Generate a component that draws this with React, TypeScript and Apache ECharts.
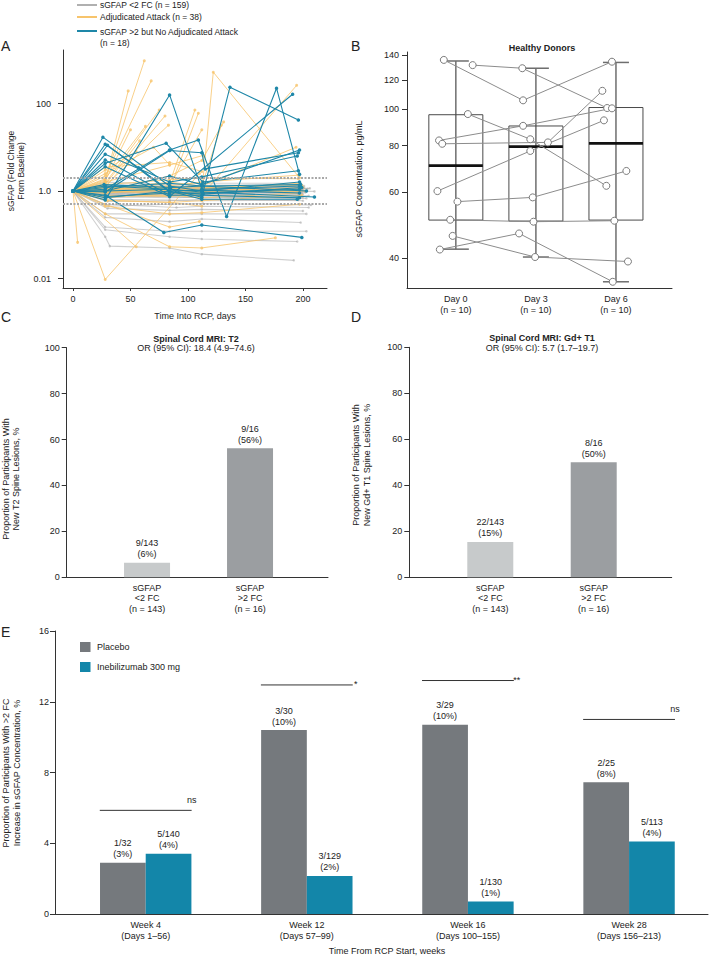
import React, { useEffect, useRef } from 'react';
import * as echarts from 'echarts';

const FONT = '"Liberation Sans", Arial, Helvetica, sans-serif';
const log = (v: number) => Math.log10(v);

// ---------------- Panel A: sGFAP fold change spaghetti ----------------
const legendA = ['sGFAP <2 FC (n = 159)', 'Adjudicated Attack (n = 38)', 'sGFAP >2 but No Adjudicated Attack\n(n = 18)'];
const thresholdsA = [2, 0.5];
const yTicksA = [0.01, 1, 100];
const yTickLabelsA = ['0.01', '1.0', '100'];
const xTicksA = [0, 50, 100, 150, 200];

const grayLines: number[][][] = [
  [[0, 1], [28, 0.95], [84, 0.9], [112, 0.92], [197, 0.88]],
  [[0, 1], [29, 1.1], [85, 1.05], [113, 1.0], [198, 1.1]],
  [[0, 1], [27, 0.85], [84, 0.8], [111, 0.85], [196, 0.82]],
  [[0, 1], [28, 1.2], [86, 1.15], [112, 1.1], [199, 1.2]],
  [[0, 1], [30, 0.9], [84, 1.0], [114, 0.95], [200, 1.05]],
  [[0, 1], [28, 1.05], [83, 0.95], [112, 0.9], [195, 0.95]],
  [[0, 1], [28, 0.75], [84, 0.7], [112, 0.72], [197, 0.7]],
  [[0, 1], [29, 1.3], [85, 1.25], [113, 1.2], [201, 1.3]],
  [[0, 1], [28, 0.8], [84, 0.85], [112, 0.8], [205, 0.78]],
  [[0, 1], [31, 1.0], [88, 1.1], [115, 1.05], [203, 1.0]],
  [[0, 1], [28, 0.65], [84, 0.62], [112, 0.6], [196, 0.62]],
  [[0, 1], [28, 1.15], [84, 1.25], [112, 1.35], [198, 1.4]],
  [[0, 1], [27, 0.92], [84, 0.88], [110, 0.95], [199, 0.9]],
  [[0, 1], [28, 1.4], [84, 1.3], [112, 1.25], [197, 1.15]],
  [[0, 1], [28, 0.7], [85, 0.78], [113, 0.75], [200, 0.72]],
  [[0, 1], [29, 1.0], [84, 0.92], [112, 1.02], [210, 0.98]],
  [[0, 1], [28, 0.88], [86, 0.95], [112, 0.98], [202, 0.93]],
  [[0, 1], [28, 1.25], [84, 1.1], [112, 1.15], [196, 1.25]],
  [[0, 1], [30, 0.58], [84, 0.6], [112, 0.65], [200, 0.6]],
  [[0, 1], [28, 1.6], [84, 1.4], [112, 1.5], [198, 1.5]],
  [[0, 1], [28, 1.02], [84, 1.08], [114, 1.12], [199, 1.08]],
  [[0, 1], [28, 0.82], [84, 0.74], [112, 0.7], [203, 0.68]],
  [[0, 1], [29, 0.97], [90, 1.0], [113, 0.97], [197, 1.02]],
  [[0, 1], [28, 1.1], [84, 1.2], [112, 1.1], [206, 1.15]],
  [[0, 1], [28, 0.98], [84, 0.9], [112, 0.86], [200, 0.85]],
  [[0, 1], [28, 1.08], [85, 1.02], [112, 1.06], [204, 1.12]],
  [[0, 1], [29, 0.9], [84, 0.82], [113, 0.9], [196, 0.96]],
  [[0, 1], [28, 1.3], [84, 1.18], [112, 1.22], [201, 1.18]],
  [[0, 1], [28, 0.09], [32, 0.055], [84, 0.05], [112, 0.036], [192, 0.026]],
  [[0, 1], [28, 0.15], [84, 0.12], [112, 0.12], [203, 0.12]],
  [[0, 1], [28, 0.3], [84, 0.3], [112, 0.3], [203, 0.3]],
  [[0, 1], [30, 0.4], [84, 0.36], [112, 0.38], [200, 0.35]],
  [[0, 1], [28, 0.5], [90, 0.42], [112, 0.45], [205, 0.42]],
  [[0, 1], [28, 0.25], [84, 0.2], [112, 0.23], [198, 0.19]],
  [[0, 1], [31, 0.45], [84, 0.5], [113, 0.52], [207, 0.48]],
  [[0, 1], [28, 0.13], [84, 0.09], [112, 0.08], [195, 0.07]],
];

const attackLines: number[][][] = [
  [[0, 1], [28, 1.8], [62, 944]],
  [[0, 1], [28, 2.2], [68, 329]],
  [[0, 1], [27, 1.3], [48, 194]],
  [[0, 1], [28, 0.9], [84, 1.2], [112, 0.9], [122, 520], [197, 2.0]],
  [[0, 1], [28, 1.1], [84, 0.9], [112, 0.8], [194.5, 260]],
  [[0, 1], [28, 1.5], [75, 71]],
  [[0, 1], [28, 1.2], [80, 52]],
  [[0, 1], [28, 1.0], [84, 1.5], [106, 71]],
  [[0, 1], [28, 0.9], [84, 1.1], [109, 60]],
  [[0, 1], [28, 1.3], [83, 32]],
  [[0, 1], [28, 1.0], [84, 1.2], [112, 1.3], [129, 32]],
  [[0, 1], [28, 1.7], [50, 25]],
  [[0, 1], [28, 1.4], [58, 14]],
  [[0, 1], [28, 3.0], [55, 8]],
  [[0, 1], [4, 0.067]],
  [[0, 1], [28, 0.0095], [110, 2.5]],
  [[0, 1], [55, 0.053]],
  [[0, 1], [28, 0.3], [84, 0.053], [112, 0.05], [176, 0.085]],
  [[0, 1], [28, 0.45], [84, 0.3], [112, 0.32], [197, 0.5]],
  [[0, 1], [28, 0.62], [84, 0.55], [112, 0.45]],
  [[0, 1], [28, 0.75], [84, 0.8], [112, 0.7], [197, 0.9]],
  [[0, 1], [28, 1.2], [84, 1.0], [112, 1.1], [197, 1.5]],
  [[0, 1], [28, 0.9], [84, 1.3], [112, 1.6], [196, 2.3]],
  [[0, 1], [28, 1.1], [84, 1.6], [112, 1.3], [194, 10]],
  [[0, 1], [28, 1.6], [84, 3.9], [113, 6.5]],
  [[0, 1], [28, 2.5], [70, 10], [84, 4]],
  [[0, 1], [30, 0.6], [84, 0.55], [112, 0.6], [199, 0.8]],
  [[0, 1], [28, 0.8], [84, 0.75], [110, 0.9], [198, 1.1]],
  [[0, 1], [28, 1.0], [84, 0.85], [113, 1.0], [200, 1.2]],
  [[0, 1], [29, 0.7], [84, 0.9], [112, 1.2], [197, 0.95]],
  [[0, 1], [28, 3.5], [84, 4.5], [112, 2.8]],
  [[0, 1], [28, 1.9], [63, 30]],
  [[0, 1], [28, 1.1], [84, 1.3], [112, 25]],
  [[0, 1], [28, 1.0], [84, 2.2], [112, 5], [131, 38]],
  [[0, 1], [28, 0.95], [84, 1.05], [112, 0.95], [202, 1.0]],
  [[0, 1], [28, 1.25], [84, 1.15], [112, 1.2], [199, 1.35]],
  [[0, 1], [28, 0.5], [84, 0.15], [110, 0.2]],
  [[0, 1], [28, 1.4], [84, 1.8], [112, 2.0], [196, 1.9]],
];

const tealLines: number[][][] = [
  [[0, 1], [28, 0.62], [84, 157], [112, 1.1], [197, 1.3]],
  [[0, 1], [28, 1.3], [84, 1.1], [112, 0.72], [136.5, 236], [196, 42]],
  [[0, 1], [28, 1.1], [84, 8.7], [109, 14.7], [133.6, 0.26], [177, 224], [197, 2.4]],
  [[0, 1], [28, 3.6], [84, 0.75], [191, 163]],
  [[0, 1], [26, 17], [84, 1.3], [112, 1.0], [197, 1.6]],
  [[0, 1], [28, 11.7], [57, 3.4], [84, 1.0], [112, 1.05], [197, 0.9]],
  [[0, 1], [30, 11.1], [84, 0.95], [113, 0.85], [199, 1.2]],
  [[0, 1], [28, 5.1], [84, 0.8], [112, 0.8], [197, 0.7]],
  [[0, 1], [28, 4.3], [81, 12.3], [113, 1.6], [196, 2.9]],
  [[0, 1], [28, 0.95], [84, 8.4], [112, 7.5], [115, 3.2], [196, 7.5]],
  [[0, 1], [28, 1.0], [84, 2.2], [112, 1.4], [197, 8.7]],
  [[0, 1], [28, 0.8], [79, 0.113], [112, 0.167], [199, 0.087]],
  [[0, 1], [28, 0.7], [84, 1.0], [112, 0.65], [195, 0.65]],
  [[0, 1], [28, 1.2], [84, 1.5], [112, 1.3], [203, 1.0]],
  [[0, 1], [30, 0.75], [84, 0.9], [113, 0.9], [197, 1.1]],
  [[0, 1], [28, 1.0], [84, 1.1], [112, 0.95], [210, 0.73]],
  [[0, 1], [27, 1.4], [85, 1.2], [113, 1.3], [198, 1.4]],
  [[0, 1], [28, 6.9], [84, 1.6], [112, 2.1], [195, 6.3]],
];

// ---------------- Panel B: healthy donors ----------------
const donorDays = ['Day 0', 'Day 3', 'Day 6'];
const donorN = [10, 10, 10];
const donorValues = [
  [135.8, 105.8, 134.3],
  [131.5, 129, 100.9],
  [97.2, 83.2, 62.4],
  [82.6, 90.4, 100.7],
  [80.9, 81.6, 112.2],
  [60.4, 77.4, 93.5],
  [56.6, 58.1, 68.4],
  [50.6, 50.0, 50.3],
  [45.8, 40.2, 39.1],
  [42.1, 46.5, 34.5],
];
const dayJitter = [
  [-0.15, -0.16, -0.05],
  [0.21, -0.17, -0.11],
  [0.15, -0.07, -0.12],
  [-0.21, -0.16, -0.05],
  [-0.17, 0.15, -0.17],
  [-0.23, -0.07, -0.15],
  [0.02, -0.04, 0.13],
  [-0.07, -0.03, -0.02],
  [-0.04, -0.01, 0.15],
  [-0.2, -0.21, -0.04],
];
// [whisker low, Q1, median, Q3, whisker high]
const boxStats = [
  [42.2, 50.5, 70.7, 96.8, 134.9],
  [40.2, 50.2, 79.5, 90.3, 129],
  [34.5, 50.5, 81.1, 101.2, 133.7],
];
const yTicksB = [40, 60, 80, 100, 120, 140];

// ---------------- Panels C & D ----------------
const cdCategories = ['sGFAP\n<2 FC\n(n = 143)', 'sGFAP\n>2 FC\n(n = 16)'];
const cValues = [6.29, 56.25];
const cLabels = ['9/143\n(6%)', '9/16\n(56%)'];
const dValues = [15.38, 50];
const dLabels = ['22/143\n(15%)', '8/16\n(50%)'];

// ---------------- Panel E ----------------
const eCategories = ['Week 4\n(Days 1–56)', 'Week 12\n(Days 57–99)', 'Week 16\n(Days 100–155)', 'Week 28\n(Days 156–213)'];
const placeboValues = [2.9, 10.4, 10.7, 7.45];
const placeboLabels = ['1/32\n(3%)', '3/30\n(10%)', '3/29\n(10%)', '2/25\n(8%)'];
const inebValues = [3.4, 2.15, 0.7, 4.1];
const inebLabels = ['5/140\n(4%)', '3/129\n(2%)', '1/130\n(1%)', '5/113\n(4%)'];
const sigLevels = [5.86, 12.95, 13.2, 11.0];
const sigMarks = ['ns', '*', '**', 'ns'];

const C_GRAY = '#a9a9a9';
const C_ORANGE = '#f7c46c';
const C_TEAL = '#1e87a8';
const C_LIGHT = '#c7cacb';
const C_DARK = '#9b9ea1';
const C_PLACEBO = '#75797d';
const C_INEB = '#1386a9';

const txt = { color: '#222', fontSize: 9, fontFamily: FONT };
const axisLine = { show: true, onZero: false, lineStyle: { color: '#333', width: 1 } };

function spaghetti(lines: number[][][], color: string, width: number, opacity: number, size: number, z: number, extra?: any) {
  return lines.map((pts, i) => ({
    type: 'line',
    xAxisIndex: 0,
    yAxisIndex: 0,
    data: pts.map(([d, fc]) => [d, log(fc)]),
    symbol: 'circle',
    symbolSize: size,
    showSymbol: true,
    lineStyle: { color, width, opacity },
    itemStyle: { color, opacity },
    z,
    silent: true,
    ...(i === 0 && extra ? extra : {}),
  }));
}

function gtext(x: number, y: number, text: string, opts: any = {}) {
  const { rotation, ...style } = opts;
  return {
    type: 'text',
    x,
    y,
    rotation: rotation || 0,
    silent: true,
    style: {
      text,
      fill: '#222',
      fontSize: 9,
      fontFamily: FONT,
      textAlign: 'center',
      textVerticalAlign: 'middle',
      ...style,
    },
  };
}

function buildOption(): any {
  const thresholdMark = {
    markLine: {
      silent: true,
      symbol: ['none', 'none'],
      label: { show: false },
      lineStyle: { color: '#a8a8a8', type: [2, 1.5], width: 2 },
      data: thresholdsA.map((t) => ({ yAxis: log(t) })),
    },
  };

  const series: any[] = [
    ...spaghetti(grayLines, C_GRAY, 1.1, 0.55, 2.5, 2),
    ...spaghetti(attackLines, C_ORANGE, 1, 0.8, 3, 3, thresholdMark),
    ...spaghetti(tealLines, C_TEAL, 1.1, 1, 3.5, 4),
    // Panel B boxes
    {
      type: 'custom',
      xAxisIndex: 1,
      yAxisIndex: 1,
      z: 2,
      silent: true,
      data: boxStats.map((s, i) => [i, ...s.map(log)]),
      renderItem: (params: any, api: any) => {
        const x = api.value(0);
        const lo = api.coord([x, api.value(1)]);
        const q1 = api.coord([x, api.value(2)]);
        const md = api.coord([x, api.value(3)]);
        const q3 = api.coord([x, api.value(4)]);
        const hi = api.coord([x, api.value(5)]);
        const cx = lo[0];
        const wStyle = { stroke: '#6e6e6e', lineWidth: 1.5 };
        return {
          type: 'group',
          children: [
            { type: 'line', shape: { x1: cx, y1: hi[1], x2: cx, y2: lo[1] }, style: wStyle },
            { type: 'line', shape: { x1: cx - 13, y1: hi[1], x2: cx + 13, y2: hi[1] }, style: wStyle },
            { type: 'line', shape: { x1: cx - 13, y1: lo[1], x2: cx + 13, y2: lo[1] }, style: wStyle },
            { type: 'rect', shape: { x: cx - 27, y: q3[1], width: 54, height: q1[1] - q3[1] }, style: { fill: 'none', stroke: '#4a4a4a', lineWidth: 1 } },
            { type: 'line', shape: { x1: cx - 27, y1: md[1], x2: cx + 27, y2: md[1] }, style: { stroke: '#111', lineWidth: 2.6 } },
          ],
        };
      },
    },
    ...donorValues.map((vals, i) => ({
      type: 'line',
      xAxisIndex: 1,
      yAxisIndex: 1,
      z: 5,
      silent: true,
      data: vals.map((v, d) => [d + dayJitter[i][d], log(v)]),
      symbol: 'circle',
      symbolSize: 7,
      itemStyle: { color: '#fff', borderColor: '#7a7a7a', borderWidth: 1 },
      lineStyle: { color: '#8c8c8c', width: 1 },
    })),
    // Panel C
    {
      type: 'bar',
      xAxisIndex: 2,
      yAxisIndex: 2,
      barWidth: 46,
      silent: true,
      data: cValues.map((v, i) => ({ value: [i, v], itemStyle: { color: i === 0 ? C_LIGHT : C_DARK } })),
      label: { show: true, position: 'top', distance: 3, ...txt, lineHeight: 11, formatter: (p: any) => cLabels[p.dataIndex] },
    },
    // Panel D
    {
      type: 'bar',
      xAxisIndex: 3,
      yAxisIndex: 3,
      barWidth: 46,
      silent: true,
      data: dValues.map((v, i) => ({ value: [i, v], itemStyle: { color: i === 0 ? C_LIGHT : C_DARK } })),
      label: { show: true, position: 'top', distance: 3, ...txt, lineHeight: 11, formatter: (p: any) => dLabels[p.dataIndex] },
    },
    // Panel E
    {
      type: 'bar',
      name: 'Placebo',
      xAxisIndex: 4,
      yAxisIndex: 4,
      barWidth: 45.7,
      barGap: '0%',
      silent: true,
      itemStyle: { color: C_PLACEBO },
      data: placeboValues.map((v, i) => [i, v]),
      label: { show: true, position: 'top', distance: 3, ...txt, lineHeight: 11, formatter: (p: any) => placeboLabels[p.dataIndex] },
    },
    {
      type: 'bar',
      name: 'Inebilizumab 300 mg',
      xAxisIndex: 4,
      yAxisIndex: 4,
      barWidth: 45.7,
      barGap: '0%',
      silent: true,
      itemStyle: { color: C_INEB },
      data: inebValues.map((v, i) => [i, v]),
      label: { show: true, position: 'top', distance: 3, ...txt, lineHeight: 11, formatter: (p: any) => inebLabels[p.dataIndex] },
    },
    {
      type: 'custom',
      xAxisIndex: 4,
      yAxisIndex: 4,
      silent: true,
      z: 5,
      data: sigLevels.map((lv, i) => [i, lv]),
      renderItem: (params: any, api: any) => {
        const x = api.value(0);
        const y = api.value(1);
        const p1 = api.coord([x - 0.285, y]);
        const p2 = api.coord([x + 0.285, y]);
        const mark = sigMarks[params.dataIndex];
        const isStar = mark.indexOf('*') >= 0;
        return {
          type: 'group',
          children: [
            { type: 'line', shape: { x1: p1[0], y1: p1[1], x2: p2[0], y2: p2[1] }, style: { stroke: '#333', lineWidth: 1 } },
            {
              type: 'text',
              x: p2[0] + (isStar ? 3 : 0),
              y: p2[1] - (isStar ? 1 : 10),
              style: { text: mark, fill: '#222', fontSize: 9, fontFamily: FONT, textAlign: 'center', textVerticalAlign: 'middle' },
            },
          ],
        };
      },
    },
  ];

  const grid = [
    { left: 63, top: 50, width: 264, height: 238 },
    { left: 407, top: 52, width: 265, height: 236 },
    { left: 66.7, top: 347.7, width: 261.3, height: 229.6 },
    { left: 409.3, top: 347.3, width: 262.4, height: 230 },
    { left: 55, top: 631, width: 653, height: 283 },
  ];

  const xAxis = [
    {
      type: 'value', gridIndex: 0, min: -8.7, max: 220.9,
      axisLine, splitLine: { show: false },
      axisTick: { show: true, length: 3, customValues: xTicksA, lineStyle: { color: '#333' } },
      axisLabel: { ...txt, margin: 6, customValues: xTicksA },
    },
    {
      type: 'value', gridIndex: 1, min: -0.61, max: 2.7,
      axisLine, splitLine: { show: false }, axisTick: { show: false },
      axisLabel: {
        ...txt, margin: 5, lineHeight: 11, customValues: [0, 1, 2],
        formatter: (v: number) => `${donorDays[Math.round(v)]}\n(n = ${donorN[Math.round(v)]})`,
      },
    },
    {
      type: 'value', gridIndex: 2, min: -0.78, max: 1.757,
      axisLine, splitLine: { show: false }, axisTick: { show: false },
      axisLabel: { ...txt, margin: 5, lineHeight: 10.6, customValues: [0, 1], formatter: (v: number) => cdCategories[Math.round(v)] },
    },
    {
      type: 'value', gridIndex: 3, min: -0.783, max: 1.754,
      axisLine, splitLine: { show: false }, axisTick: { show: false },
      axisLabel: { ...txt, margin: 5, lineHeight: 10.6, customValues: [0, 1], formatter: (v: number) => cdCategories[Math.round(v)] },
    },
    {
      type: 'value', gridIndex: 4, min: -0.563, max: 3.49,
      axisLine, splitLine: { show: false }, axisTick: { show: false },
      axisLabel: { ...txt, margin: 5, lineHeight: 11, customValues: [0, 1, 2, 3], formatter: (v: number) => eCategories[Math.round(v)] },
    },
  ];

  const yAxis = [
    {
      type: 'value', gridIndex: 0, min: -2.217, max: 3.223,
      axisLine, splitLine: { show: false },
      axisTick: { show: true, length: 5, customValues: yTicksA.map(log), lineStyle: { color: '#333' } },
      axisLabel: {
        ...txt, margin: 12, customValues: yTicksA.map(log),
        formatter: (v: number) => {
          const i = yTicksA.findIndex((t) => Math.abs(log(t) - v) < 1e-6);
          return i >= 0 ? yTickLabelsA[i] : '';
        },
      },
    },
    {
      type: 'value', gridIndex: 1, min: log(33.2), max: log(142.6),
      axisLine, splitLine: { show: false },
      axisTick: { show: true, length: 5, customValues: yTicksB.map(log), lineStyle: { color: '#333' } },
      axisLabel: { ...txt, margin: 8, customValues: yTicksB.map(log), formatter: (v: number) => String(Math.round(Math.pow(10, v))) },
    },
    {
      type: 'value', gridIndex: 2, min: 0, max: 100, interval: 20,
      axisLine, splitLine: { show: false },
      axisTick: { show: true, length: 5, lineStyle: { color: '#333' } },
      axisLabel: { ...txt, margin: 7 },
    },
    {
      type: 'value', gridIndex: 3, min: 0, max: 100, interval: 20,
      axisLine, splitLine: { show: false },
      axisTick: { show: true, length: 5, lineStyle: { color: '#333' } },
      axisLabel: { ...txt, margin: 7 },
    },
    {
      type: 'value', gridIndex: 4, min: 0, max: 16, interval: 4,
      axisLine, splitLine: { show: false },
      axisTick: { show: true, length: 5, lineStyle: { color: '#333' } },
      axisLabel: { ...txt, margin: 6 },
    },
  ];

  const graphic: any[] = [
    // panel letters
    gtext(1, 46, 'A', { fontSize: 14, textAlign: 'left' }),
    gtext(351, 46, 'B', { fontSize: 14, textAlign: 'left' }),
    gtext(1, 317, 'C', { fontSize: 14, textAlign: 'left' }),
    gtext(351, 317, 'D', { fontSize: 14, textAlign: 'left' }),
    gtext(1, 632, 'E', { fontSize: 14, textAlign: 'left' }),
    // Panel A legend
    { type: 'line', silent: true, shape: { x1: 77, y1: 5, x2: 97, y2: 5 }, style: { stroke: '#b0b0b0', lineWidth: 2 } },
    { type: 'line', silent: true, shape: { x1: 77, y1: 17, x2: 97, y2: 17 }, style: { stroke: C_ORANGE, lineWidth: 2 } },
    { type: 'line', silent: true, shape: { x1: 77, y1: 31, x2: 97, y2: 31 }, style: { stroke: C_TEAL, lineWidth: 2 } },
    gtext(100, 5, legendA[0], { textAlign: 'left', fontSize: 8.5 }),
    gtext(100, 17, legendA[1], { textAlign: 'left', fontSize: 8.5 }),
    gtext(100, 26.5, legendA[2], { textAlign: 'left', fontSize: 8.5, textVerticalAlign: 'top', lineHeight: 11 }),
    // Panel A axis titles
    gtext(16, 171, 'sGFAP (Fold Change\nFrom Baseline)', { rotation: Math.PI / 2, fontSize: 8.5, lineHeight: 9.5 }),
    gtext(195, 316, 'Time Into RCP, days'),
    // Panel B
    gtext(542, 48, 'Healthy Donors', { fontWeight: 'bold' }),
    gtext(359, 179, 'sGFAP Concentration, pg/mL', { rotation: Math.PI / 2 }),
    // Panel C
    gtext(196, 338.5, 'Spinal Cord MRI: T2', { fontWeight: 'bold' }),
    gtext(196, 348, 'OR (95% CI): 18.4 (4.9–74.6)'),
    gtext(11, 479, 'Proportion of Participants With\nNew T2 Spine Lesions, %', { rotation: Math.PI / 2, lineHeight: 10.5 }),
    // Panel D
    gtext(542, 337.5, 'Spinal Cord MRI: Gd+ T1', { fontWeight: 'bold' }),
    gtext(542, 347.5, 'OR (95% CI): 5.7 (1.7–19.7)'),
    gtext(361.5, 465, 'Proportion of Participants With\nNew Gd+ T1 Spine Lesions, %', { rotation: Math.PI / 2, lineHeight: 10.5 }),
    // Panel E legend
    { type: 'rect', silent: true, shape: { x: 80, y: 642, width: 10.5, height: 10 }, style: { fill: C_PLACEBO } },
    { type: 'rect', silent: true, shape: { x: 80, y: 662, width: 10.5, height: 10 }, style: { fill: C_INEB } },
    gtext(97, 647, 'Placebo', { textAlign: 'left' }),
    gtext(97, 667, 'Inebilizumab 300 mg', { textAlign: 'left' }),
    gtext(11.5, 773, 'Proportion of Participants With >2 FC\nIncrease in sGFAP Concentration, %', { rotation: Math.PI / 2, lineHeight: 10.5 }),
    gtext(387, 951, 'Time From RCP Start, weeks'),
  ];

  return {
    animation: false,
    backgroundColor: '#fff',
    textStyle: { fontFamily: FONT },
    grid,
    xAxis,
    yAxis,
    series,
    graphic,
  };
}

export default function App() {
  const ref = useRef<HTMLDivElement>(null);
  useEffect(() => {
    if (!ref.current) return;
    const chart = echarts.init(ref.current, null, { renderer: 'svg', width: 709, height: 958 });
    chart.setOption(buildOption());
    return () => chart.dispose();
  }, []);
  return (
    <div
      ref={ref}
      style={{ position: 'fixed', left: 0, top: 0, width: 709, height: 958, background: '#fff' }}
    />
  );
}
